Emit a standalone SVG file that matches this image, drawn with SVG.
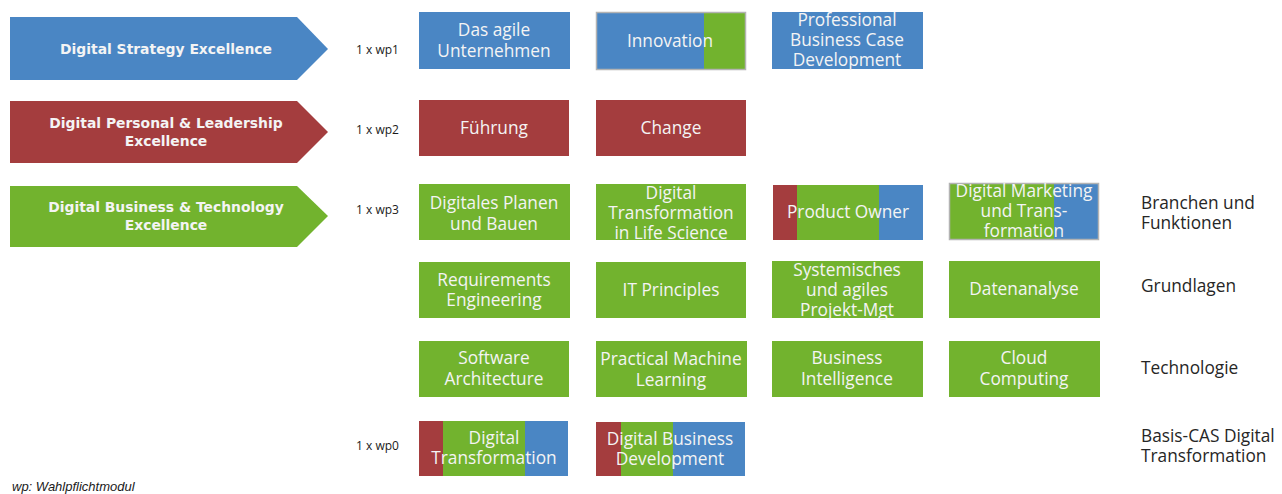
<svg xmlns="http://www.w3.org/2000/svg" width="1282" height="494" viewBox="0 0 1282 494">
<style>
.b{fill:#4a86c4}.r{fill:#a43d3e}.g{fill:#72b32e}
.bt{font-family:"Open Sans","Liberation Sans",sans-serif;font-size:17.3px;fill:#f4f4f4;text-anchor:middle}
.at{font-family:"DejaVu Sans","Liberation Sans",sans-serif;font-size:13.9px;font-weight:bold;fill:#f4f4f4;text-anchor:middle}
.wp{font-family:"Open Sans","Liberation Sans",sans-serif;font-size:12px;fill:#1a1a1a}
.lb{font-family:"Open Sans","Liberation Sans",sans-serif;font-size:17.3px;fill:#262626}
.fr{fill:none;stroke:#b3b3b3;stroke-width:1.5}
</style>
<g id="arrow-strategy"><polygon class="b" points="10,17 297,17 328,49 297,80 10,80"/><text class="at" x="166" y="54">Digital Strategy Excellence</text></g>
<g id="arrow-leadership"><polygon class="r" points="10,101 297,101 328,132 297,163 10,163"/><text class="at" x="166" y="128">Digital Personal &amp; Leadership</text><text class="at" x="166" y="146">Excellence</text></g>
<g id="arrow-business"><polygon class="g" points="10,186 297,186 328,216 297,247 10,247"/><text class="at" x="166" y="212">Digital Business &amp; Technology</text><text class="at" x="166" y="230">Excellence</text></g>
<g id="wp-labels"><text class="wp" x="356" y="54">1 x wp1</text><text class="wp" x="356" y="134">1 x wp2</text><text class="wp" x="356" y="214">1 x wp3</text><text class="wp" x="356" y="450">1 x wp0</text></g>
<g id="connectors"/>
<g id="das-agile"><rect class="b" x="419" y="12" width="151" height="57"/><text class="bt" x="494" y="36">Das agile</text><text class="bt" x="494" y="57">Unternehmen</text></g>
<g id="innovation"><rect class="b" x="597" y="13" width="108" height="56"/><rect class="g" x="704" y="13" width="41" height="56"/><rect class="fr" x="596.5" y="12.5" width="149" height="57"/><text class="bt" x="670" y="47">Innovation</text></g>
<g id="professional"><rect class="b" x="772" y="12" width="151" height="57"/><text class="bt" x="847" y="26">Professional</text><text class="bt" x="847" y="46">Business Case</text><text class="bt" x="847" y="66">Development</text></g>
<g id="fuehrung"><rect class="r" x="419" y="100" width="150" height="56"/><text class="bt" x="494" y="134">Führung</text></g>
<g id="change"><rect class="r" x="596" y="100" width="150" height="56"/><text class="bt" x="671" y="134">Change</text></g>
<g id="planen-bauen"><rect class="g" x="419" y="184" width="151" height="56"/><text class="bt" x="494" y="209">Digitales Planen</text><text class="bt" x="494" y="230">und Bauen</text></g>
<g id="life-science"><rect class="g" x="596" y="184" width="150" height="56"/><text class="bt" x="671" y="199">Digital</text><text class="bt" x="671" y="219">Transformation</text><text class="bt" x="671" y="239">in Life Science</text></g>
<g id="product-owner"><rect class="r" x="773" y="185" width="25" height="55"/><rect class="g" x="797" y="185" width="83" height="55"/><rect class="b" x="879" y="185" width="44" height="55"/><text class="bt" x="848" y="218">Product Owner</text></g>
<g id="marketing"><rect class="g" x="949" y="184" width="106" height="56"/><rect class="b" x="1054" y="184" width="45" height="56"/><rect class="fr" x="949.5" y="183.5" width="149" height="56"/><text class="bt" x="1024" y="197">Digital Marketing</text><text class="bt" x="1024" y="217">und Trans-</text><text class="bt" x="1024" y="237">formation</text></g>
<g id="requirements"><rect class="g" x="419" y="262" width="151" height="56"/><text class="bt" x="494" y="286">Requirements</text><text class="bt" x="494" y="306">Engineering</text></g>
<g id="it-principles"><rect class="g" x="596" y="262" width="150" height="56"/><text class="bt" x="671" y="296">IT Principles</text></g>
<g id="projekt-mgt"><rect class="g" x="772" y="261" width="151" height="57"/><text class="bt" x="847" y="276">Systemisches</text><text class="bt" x="847" y="296">und agiles</text><text class="bt" x="847" y="316">Projekt-Mgt</text></g>
<g id="datenanalyse"><rect class="g" x="949" y="261" width="151" height="57"/><text class="bt" x="1024" y="295">Datenanalyse</text></g>
<g id="software"><rect class="g" x="419" y="341" width="150" height="56"/><text class="bt" x="494" y="364">Software</text><text class="bt" x="494" y="385">Architecture</text></g>
<g id="machine-learning"><rect class="g" x="596" y="341" width="151" height="56"/><text class="bt" x="671" y="365">Practical Machine</text><text class="bt" x="671" y="386">Learning</text></g>
<g id="bi"><rect class="g" x="772" y="341" width="151" height="56"/><text class="bt" x="847" y="364">Business</text><text class="bt" x="847" y="385">Intelligence</text></g>
<g id="cloud"><rect class="g" x="949" y="341" width="151" height="56"/><text class="bt" x="1024" y="364">Cloud</text><text class="bt" x="1024" y="385">Computing</text></g>
<g id="digital-transformation"><rect class="r" x="419" y="421" width="25" height="55"/><rect class="g" x="443" y="421" width="83" height="55"/><rect class="b" x="525" y="421" width="43" height="55"/><text class="bt" x="494" y="444">Digital</text><text class="bt" x="494" y="464">Transformation</text></g>
<g id="business-development"><rect class="r" x="596" y="422" width="26" height="54"/><rect class="g" x="621" y="422" width="53" height="54"/><rect class="b" x="673" y="422" width="72" height="54"/><text class="bt" x="670" y="445">Digital Business</text><text class="bt" x="670" y="465">Development</text></g>
<g id="row-labels"><text class="lb" x="1141" y="209">Branchen und</text><text class="lb" x="1141" y="229">Funktionen</text><text class="lb" x="1141" y="292">Grundlagen</text><text class="lb" x="1141" y="374">Technologie</text><text class="lb" x="1141" y="442">Basis-CAS Digital</text><text class="lb" x="1141" y="462">Transformation</text></g>
<text x="12" y="491" font-family="Liberation Sans, sans-serif" font-size="13" font-style="italic" fill="#1a1a1a">wp: Wahlpflichtmodul</text>
</svg>
